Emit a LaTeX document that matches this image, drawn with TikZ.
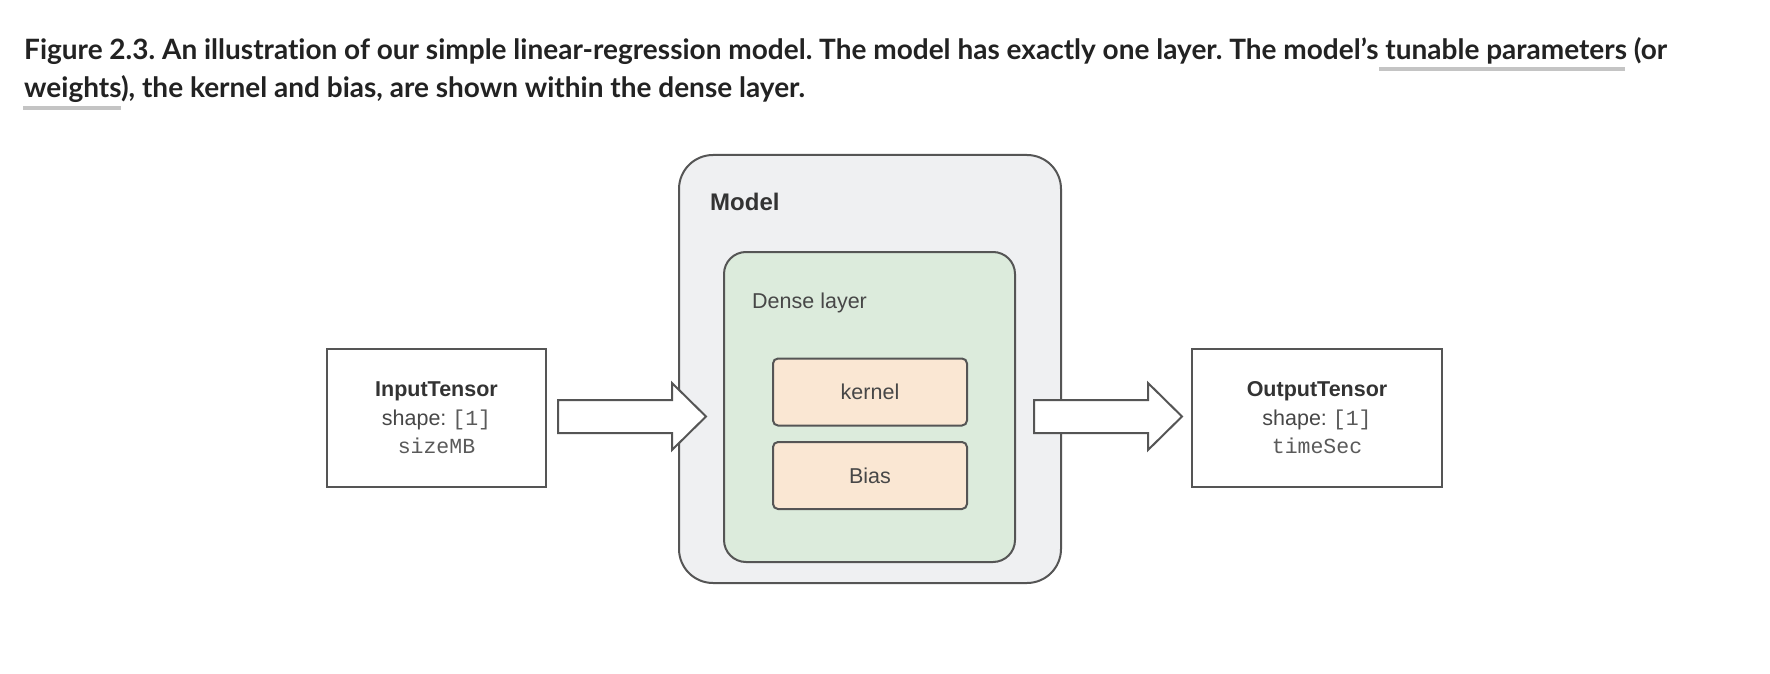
\documentclass[tikz,border=0pt]{standalone}
\usepackage{fontspec}
\setmainfont{Liberation Sans}
\newfontfamily\lato[Ligatures={NoCommon,NoRare,NoDiscretionary}]{Lato}
\newfontfamily\monof{Liberation Mono}
\usetikzlibrary{calc}
\frenchspacing
\definecolor{capcol}{HTML}{222222}
\definecolor{ulcol}{HTML}{C4C4C4}
\definecolor{edgecol}{HTML}{555555}
\definecolor{txtcol}{HTML}{333333}
\definecolor{regcol}{HTML}{474747}
\definecolor{monocol}{HTML}{5A5A5A}
\definecolor{modelfill}{HTML}{EFF0F2}
\definecolor{densefill}{HTML}{DCEBDC}
\definecolor{paramfill}{HTML}{FAE7D3}
\newcommand\mono[1]{{\monof\color{monocol}#1}}
\newcommand\blockarrow[2]{%
  \draw[blockarr] let \p1=(#1), \p2=(#2) in
   (\x1,\y1+16.5pt) -- (\x2-34pt,\y1+16.5pt) -- (\x2-34pt,\y1+33.5pt) -- (\x2,\y1)
   -- (\x2-34pt,\y1-33.5pt) -- (\x2-34pt,\y1-16.5pt) -- (\x1,\y1-16.5pt) -- cycle;}
\tikzset{
  captext/.style={anchor=base west, inner sep=0pt, font=\lato\bfseries\fontsize{28}{34}\selectfont, text=capcol},
  underl/.style={fill=ulcol, draw=none},
  container/.style={draw=edgecol, line width=2pt, inner sep=0pt},
  paramnode/.style={container, fill=paramfill, rounded corners=5pt, minimum width=194pt, minimum height=67pt,
     font=\fontsize{21.5}{26}\selectfont, text=regcol},
  tensor/.style={draw=edgecol, line width=2pt, fill=white, minimum height=138pt, align=center,
     font=\fontsize{21.5}{28.5}\selectfont, text=regcol},
  label/.style={anchor=base west, inner sep=0pt, text=regcol},
  blockarr/.style={draw=edgecol, line width=2pt, fill=white, line join=miter},
}
\begin{document}
\begin{tikzpicture}[x=1pt,y=-1pt]
\useasboundingbox[fill=white] (0,0) rectangle (1770,674);
% caption
\node[captext] (cap1) at (24,60) {Figure 2.3. An illustration of our simple linear-regression model. The model has exactly one layer. The model’s tunable parameters (or};
\node[captext] (cap2) at (24,98) {weights), the kernel and bias, are shown within the dense layer.};
\fill[underl] (1379,67) rectangle (1625,71);
\fill[underl] (23,106) rectangle (121,110);
% model
\node[container, fill=modelfill, rounded corners=34pt, minimum width=382pt, minimum height=428pt] (model) at (870,369) {};
\node[label, font=\bfseries\fontsize{24}{28}\selectfont, text=txtcol] (modellbl) at (710,210) {Model};
\node[container, fill=densefill, rounded corners=22pt, minimum width=291pt, minimum height=310pt] (dense) at (869.5,407) {};
\node[label, font=\fontsize{21.5}{26}\selectfont] (denselbl) at (752,308) {Dense layer};
\node[paramnode] (kernel) at (870,392) {kernel};
\node[paramnode] (bias) at (870,475.5) {Bias};
% tensors
\node[tensor, minimum width=219pt] (input) at (436.5,418) {{\bfseries\color{txtcol}InputTensor}\\shape: \mono{[1]}\\\mono{sizeMB}};
\node[tensor, minimum width=250pt] (output) at (1317,418) {{\bfseries\color{txtcol}OutputTensor}\\shape: \mono{[1]}\\\mono{timeSec}};
% block arrows
\coordinate (inS) at ([xshift=11pt,yshift=1.5pt]input.east);
\coordinate (inT) at ([xshift=28pt]inS -| model.west);
\coordinate (outS) at ([xshift=-28pt,yshift=1.5pt]output.west -| model.east);
\coordinate (outT) at ([xshift=-9pt,yshift=1.5pt]output.west);
\blockarrow{inS}{inT}
\blockarrow{outS}{outT}
\end{tikzpicture}
\end{document}
